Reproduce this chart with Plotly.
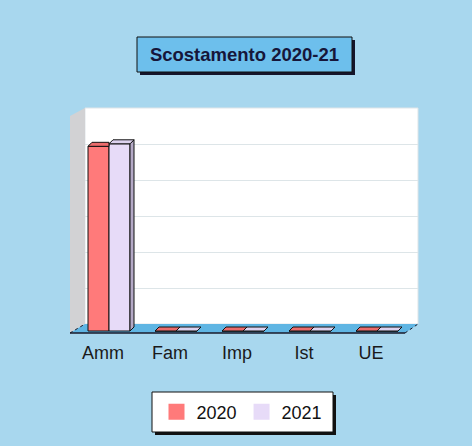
import plotly.graph_objects as go

# ---------------- data ----------------
categories = ["Amm", "Fam", "Imp", "Ist", "UE"]
series_names = ["2020", "2021"]
values_2020 = [5.13, 0, 0, 0, 0]
values_2021 = [5.20, 0, 0, 0, 0]
grid_levels = [1, 2, 3, 4, 5]

# ---------------- styling constants ----------------
W, H = 472, 446
BG = "#a8d7ee"
FRONT = ["#ff7a7a", "#e7dbf8"]
TOP = ["#ec6c6c", "#ddd2ef"]
SIDE = ["#c45c5c", "#b4a9c6"]
FONT = "Liberation Sans, Arial, sans-serif"

BAR_W = 0.3135          # width of one bar in category units
DEPTH_X = 4 / 67.0      # 3D depth offset (category units)
DEPTH_Y = 4 / 36.0      # 3D depth offset (value units)


def fx(px):
    return px / W


def fy(py):
    return 1 - py / H


def path(points):
    s = "M " + " L ".join(f"{fx(x):.5f},{fy(y):.5f}" for x, y in points) + " Z"
    return s


fig = go.Figure()

# ---------------- bars (front faces) ----------------
series = [values_2020, values_2021]
offsets = [-BAR_W, 0.0]
idx = list(range(len(categories)))
for s, vals in enumerate(series):
    fig.add_trace(go.Bar(
        x=idx, y=vals, width=BAR_W, offset=offsets[s],
        marker=dict(color=FRONT[s], line=dict(color="#111111", width=1)),
        xaxis="x2", yaxis="y2", showlegend=False, hoverinfo="skip",
    ))

# ---------------- 3D faces computed from data ----------------
for s, vals in enumerate(series):
    tx, ty, sx, sy = [], [], [], []
    for i, v in enumerate(vals):
        x0 = i + offsets[s]
        x1 = x0 + BAR_W
        right = series[s + 1][i] if s + 1 < len(series) else None
        # top face
        if right is not None and right > v:
            pts = [(x0, v), (x1, v), (x1, v + DEPTH_Y), (x0 + DEPTH_X, v + DEPTH_Y)]
        else:
            pts = [(x0, v), (x1, v), (x1 + DEPTH_X, v + DEPTH_Y), (x0 + DEPTH_X, v + DEPTH_Y)]
        pts.append(pts[0])
        for p in pts:
            tx.append(p[0]); ty.append(p[1])
        tx.append(None); ty.append(None)
        # side face
        base = 0.0 if right is None else right
        if v > base:
            pts = [(x1, base), (x1 + DEPTH_X, base + DEPTH_Y), (x1 + DEPTH_X, v + DEPTH_Y), (x1, v), (x1, base)]
            for p in pts:
                sx.append(p[0]); sy.append(p[1])
            sx.append(None); sy.append(None)
    if sx:
        fig.add_trace(go.Scatter(
            x=sx, y=sy, mode="lines", fill="toself", fillcolor=SIDE[s],
            line=dict(color="#111111", width=1), xaxis="x2", yaxis="y2",
            showlegend=False, hoverinfo="skip"))
    fig.add_trace(go.Scatter(
        x=tx, y=ty, mode="lines", fill="toself", fillcolor=TOP[s],
        line=dict(color="#111111", width=1), xaxis="x2", yaxis="y2",
        showlegend=False, hoverinfo="skip"))

# legend entries
for s, name in enumerate(series_names):
    fig.add_trace(go.Scatter(
        x=[None], y=[None], mode="markers", name=name,
        marker=dict(symbol="square", size=16, color=FRONT[s]),
        xaxis="x2", yaxis="y2"))

# dummy trace for back-wall grid subplot
fig.add_trace(go.Scatter(x=[None], y=[None], xaxis="x", yaxis="y",
                         showlegend=False, hoverinfo="skip"))

# ---------------- decorative shapes ----------------
shapes = []
# title box shadow + box
shapes.append(dict(type="rect", xref="paper", yref="paper",
                   x0=fx(140), x1=fx(355), y0=fy(75), y1=fy(40),
                   fillcolor="#15152a", line=dict(width=0), layer="below"))
shapes.append(dict(type="rect", xref="paper", yref="paper",
                   x0=fx(137), x1=fx(352), y0=fy(72), y1=fy(37),
                   fillcolor="#6dbfec", line=dict(color="#111111", width=1), layer="below"))
# back wall
shapes.append(dict(type="path", xref="paper", yref="paper",
                   path=path([(85, 108), (418, 108), (418, 324), (85, 324)]),
                   fillcolor="#ffffff", line=dict(color="#dfe5e8", width=1), layer="below"))
# left side wall
shapes.append(dict(type="path", xref="paper", yref="paper",
                   path=path([(70, 116), (85, 108), (85, 324), (70, 333)]),
                   fillcolor="#d2d2d4", line=dict(width=0), layer="below"))
# floor
shapes.append(dict(type="path", xref="paper", yref="paper",
                   path=path([(70, 333), (405, 333), (418, 324), (85, 324)]),
                   fillcolor="#5fb5e3", line=dict(width=0), layer="below"))
shapes.append(dict(type="line", xref="paper", yref="paper",
                   x0=fx(70), x1=fx(405), y0=fy(333), y1=fy(333),
                   line=dict(color="#1a1a2a", width=1.5), layer="below"))
shapes.append(dict(type="line", xref="paper", yref="paper",
                   x0=fx(70), x1=fx(85), y0=fy(333), y1=fy(324),
                   line=dict(color="#1a1a2a", width=1, dash="dot"), layer="below"))
shapes.append(dict(type="line", xref="paper", yref="paper",
                   x0=fx(405), x1=fx(418), y0=fy(333), y1=fy(324),
                   line=dict(color="#1a1a2a", width=1, dash="dot"), layer="below"))
# legend box shadow + box
shapes.append(dict(type="rect", xref="paper", yref="paper",
                   x0=fx(155), x1=fx(336), y0=fy(435), y1=fy(395),
                   fillcolor="#111111", line=dict(width=0), layer="below"))
shapes.append(dict(type="rect", xref="paper", yref="paper",
                   x0=fx(152), x1=fx(333), y0=fy(432), y1=fy(392),
                   fillcolor="#ffffff", line=dict(color="#111111", width=1), layer="below"))

# front-plane mapping: x_px = 109 + 67 * x ; y_px = 331 - 36 * v
x2_range = [(60 - 109) / 67.0, (430 - 109) / 67.0]
y2_range = [-(336.4 - 331) / 36.0, (331 - 100) / 36.0]

fig.update_layout(
    width=W, height=H, autosize=False,
    margin=dict(l=0, r=0, t=0, b=0, pad=0),
    paper_bgcolor=BG, plot_bgcolor="rgba(0,0,0,0)",
    barmode="overlay",
    shapes=shapes,
    title=dict(text="<b>Scostamento 2020-21</b>", x=fx(244.5), y=fy(55),
               xanchor="center", yanchor="middle", xref="paper", yref="paper",
               font=dict(family=FONT, size=18.5, color="#16163a")),
    xaxis=dict(domain=[fx(85), fx(418)], range=[0, 1], showgrid=False,
               showticklabels=False, zeroline=False, showline=False, anchor="y",
               fixedrange=True),
    yaxis=dict(domain=[fy(324), fy(108)], range=[0, 6.0], tickvals=grid_levels,
               showgrid=True, gridcolor="#dde5e8", gridwidth=1,
               showticklabels=False, zeroline=False, showline=False, anchor="x",
               fixedrange=True),
    xaxis2=dict(domain=[fx(60), fx(430)], range=x2_range, anchor="y2",
                tickvals=idx, ticktext=categories, showgrid=False, zeroline=False,
                showline=False, ticks="", ticklabelshift=-6, ticklabelstandoff=4,
                tickfont=dict(family=FONT, size=18, color="#1a1a1a"), fixedrange=True),
    yaxis2=dict(domain=[fy(336.4), fy(100)], range=y2_range, anchor="x2",
                showgrid=False, showticklabels=False, zeroline=False,
                showline=False, fixedrange=True),
    legend=dict(orientation="h", x=fx(242), y=fy(412), xanchor="center",
                yanchor="middle", bgcolor="rgba(0,0,0,0)", borderwidth=0,
                font=dict(family=FONT, size=18, color="#111111"),
                itemclick=False, itemdoubleclick=False),
    showlegend=True,
)

fig.write_html("out.html")
